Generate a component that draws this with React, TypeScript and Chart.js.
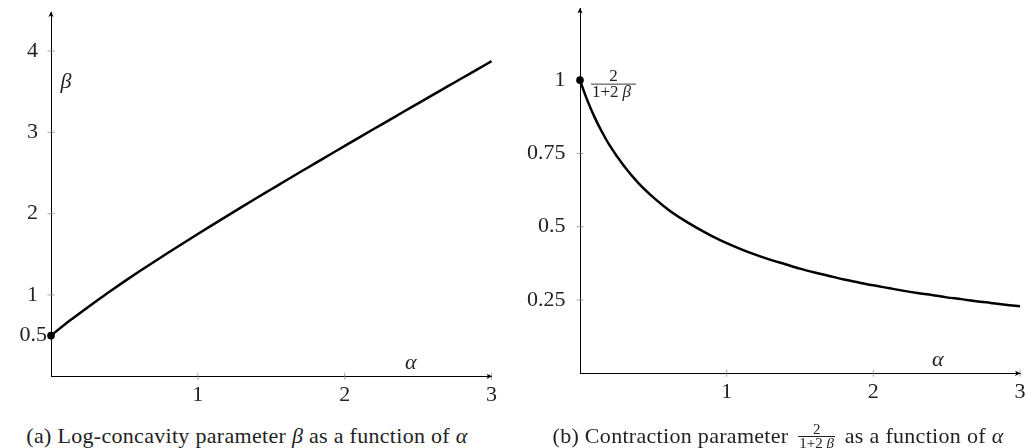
import React, { useEffect, useRef } from 'react';
import { Chart, registerables } from 'chart.js';

Chart.register(...registerables);

// ---- data ----
const alphaValues = [0, 0.025, 0.05, 0.1, 0.15, 0.2, 0.3, 0.4, 0.5, 0.6, 0.7, 0.8, 0.9, 1.0, 1.1, 1.2, 1.3, 1.4, 1.5, 1.6, 1.7, 1.8, 1.9, 2.0, 2.1, 2.2, 2.3, 2.4, 2.5, 2.6, 2.7, 2.8, 2.9, 3.0];
const betaValues = [0.5, 0.537, 0.574, 0.646, 0.715, 0.783, 0.915, 1.043, 1.167, 1.288, 1.406, 1.522, 1.637, 1.75, 1.862, 1.973, 2.083, 2.192, 2.3, 2.408, 2.515, 2.621, 2.728, 2.833, 2.939, 3.044, 3.148, 3.253, 3.357, 3.461, 3.565, 3.668, 3.772, 3.875];
const contractionValues = [1, 0.964, 0.931, 0.873, 0.823, 0.779, 0.707, 0.648, 0.6, 0.559, 0.525, 0.495, 0.468, 0.444, 0.423, 0.404, 0.387, 0.372, 0.357, 0.344, 0.332, 0.32, 0.31, 0.3, 0.291, 0.282, 0.274, 0.267, 0.259, 0.253, 0.246, 0.24, 0.234, 0.229];
const xTicks = [1, 2, 3];
const betaTicks = [0.5, 1, 2, 3, 4];
const contractionTicks = [0.25, 0.5, 0.75, 1];
const captionA = 'Log-concavity parameter';
const captionB = 'Contraction parameter';

const SERIF = '"Liberation Serif", "DejaVu Serif", serif';

const decorPlugin = {
  id: 'decor',
  beforeDatasetsDraw(chart: any, _args: any, opts: any) {
    const { ctx, chartArea: ca, scales } = chart;
    const xs = scales.x;
    const ys = scales.y;
    ctx.save();
    ctx.strokeStyle = '#8a8a8a';
    ctx.lineWidth = 0.8;
    ctx.beginPath();
    for (const v of opts.xTicks) {
      const px = xs.getPixelForValue(v);
      ctx.moveTo(px, ca.bottom - 3.5);
      ctx.lineTo(px, ca.bottom + 3.5);
    }
    for (const v of opts.yTicks) {
      const py = ys.getPixelForValue(v);
      ctx.moveTo(ca.left - 3.5, py);
      ctx.lineTo(ca.left + 3.5, py);
    }
    ctx.stroke();
    ctx.restore();
  },
  afterDraw(chart: any, _args: any, opts: any) {
    const { ctx, chartArea: ca, scales } = chart;
    const xs = scales.x;
    const ys = scales.y;
    ctx.save();
    ctx.fillStyle = '#000';
    // arrow on y axis (up)
    const ax = ca.left;
    const ay = ca.top;
    ctx.beginPath();
    ctx.moveTo(ax, ay - 0.5);
    ctx.lineTo(ax - 2.6, ay + 5);
    ctx.lineTo(ax, ay + 3.6);
    ctx.lineTo(ax + 2.6, ay + 5);
    ctx.closePath();
    ctx.fill();
    // arrow on x axis (right)
    const bx = ca.right;
    const by = ca.bottom;
    ctx.beginPath();
    ctx.moveTo(bx + 0.5, by);
    ctx.lineTo(bx - 5, by - 2.6);
    ctx.lineTo(bx - 3.6, by);
    ctx.lineTo(bx - 5, by + 2.6);
    ctx.closePath();
    ctx.fill();

    ctx.fillStyle = '#222';
    ctx.textBaseline = 'middle';
    // axis labels
    ctx.font = `italic 22px ${SERIF}`;
    ctx.textAlign = 'center';
    ctx.fillText('α', xs.getPixelForValue(opts.alphaAt), ca.bottom - opts.alphaUp);
    if (opts.kind === 'a') {
      ctx.fillText('β', ca.left + 15, ys.getPixelForValue(3.62));
      // extra tick label 0.5
      ctx.font = `22px ${SERIF}`;
      ctx.textAlign = 'right';
      ctx.fillText('0.5', ca.left - 4, ys.getPixelForValue(0.5));
    } else {
      const x0 = ca.left + 11;
      const x1 = ca.left + 56;
      const yb = ys.getPixelForValue(1) + 4;
      ctx.strokeStyle = '#222';
      ctx.lineWidth = 0.9;
      ctx.beginPath();
      ctx.moveTo(x0, yb);
      ctx.lineTo(x1, yb);
      ctx.stroke();
      ctx.font = `17px ${SERIF}`;
      ctx.textAlign = 'center';
      ctx.fillText('2', (x0 + x1) / 2, yb - 7.5);
      ctx.textAlign = 'left';
      ctx.fillText('1+2', x0 + 1, yb + 8.5);
      const w = ctx.measureText('1+2').width;
      ctx.font = `italic 17px ${SERIF}`;
      ctx.fillText('β', x0 + 1 + w + 4, yb + 8.5);
    }
    ctx.restore();
  },
};

function buildConfig(p: {
  values: number[];
  yTicks: number[];
  yMax: number;
  padTop: number;
  padRight: number;
  yWidth: number;
  xHeight: number;
  labelPad: number;
  hideLabel?: number;
  decor: any;
}) {
  return {
    type: 'line' as const,
    data: {
      datasets: [
        {
          data: alphaValues.map((a, i) => ({ x: a, y: p.values[i] })),
          borderColor: '#000',
          borderWidth: 2.5,
          backgroundColor: '#000',
          pointRadius: (c: any) => (c.dataIndex === 0 ? 3.8 : 0),
          pointBorderWidth: 0,
          pointHoverRadius: 0,
          cubicInterpolationMode: 'monotone' as const,
          fill: false,
          clip: false as any,
        },
      ],
    },
    options: {
      animation: false as const,
      responsive: false,
      maintainAspectRatio: false,
      events: [],
      layout: { padding: { left: 0, top: p.padTop, right: p.padRight, bottom: 0 } },
      plugins: {
        legend: { display: false },
        tooltip: { enabled: false },
        decor: p.decor,
      },
      scales: {
        x: {
          type: 'linear' as const,
          min: 0,
          max: 3,
          afterBuildTicks: (s: any) => {
            s.ticks = xTicks.map((v) => ({ value: v }));
          },
          afterFit: (s: any) => {
            s.height = p.xHeight;
            s.paddingLeft = 0;
            s.paddingRight = 0;
          },
          grid: { display: false, drawTicks: false },
          border: { display: true, color: '#000', width: 1 },
          ticks: {
            autoSkip: false,
            maxRotation: 0,
            padding: 6,
            color: '#222',
            font: { family: SERIF, size: 22, lineHeight: 1.2 },
            callback: (v: any) => String(v),
          },
        },
        y: {
          type: 'linear' as const,
          min: 0,
          max: p.yMax,
          afterBuildTicks: (s: any) => {
            s.ticks = p.yTicks.map((v) => ({ value: v }));
          },
          afterFit: (s: any) => {
            s.width = p.yWidth;
            s.paddingTop = 0;
            s.paddingBottom = 0;
          },
          grid: { display: false, drawTicks: false },
          border: { display: true, color: '#000', width: 1 },
          ticks: {
            autoSkip: false,
            padding: p.labelPad,
            color: '#222',
            font: { family: SERIF, size: 22, lineHeight: 1.2 },
            callback: (v: any) => (v === p.hideLabel ? '' : String(v)),
          },
        },
      },
    },
    plugins: [decorPlugin],
  };
}

function ChartCanvas(props: { config: any; left: number; width: number; height: number }) {
  const ref = useRef<HTMLCanvasElement | null>(null);
  useEffect(() => {
    if (!ref.current) return;
    const chart = new Chart(ref.current, props.config);
    return () => chart.destroy();
  }, []);
  return (
    <canvas
      ref={ref}
      width={props.width}
      height={props.height}
      style={{ position: 'absolute', left: props.left, top: 0, width: props.width, height: props.height, display: 'block' }}
    />
  );
}

const configA = buildConfig({
  values: betaValues,
  yTicks: betaTicks,
  yMax: 4.48,
  padTop: 12,
  padRight: 28.4,
  yWidth: 51,
  xHeight: 43.7,
  labelPad: 13,
  hideLabel: 0.5,
  decor: { kind: 'a', xTicks, yTicks: betaTicks, alphaAt: 2.45, alphaUp: 13 },
});

const configB = buildConfig({
  values: contractionValues,
  yTicks: contractionTicks,
  yMax: 1.245,
  padTop: 8.3,
  padRight: 20,
  yWidth: 70,
  xHeight: 46.7,
  labelPad: 14.5,
  decor: { kind: 'b', xTicks, yTicks: contractionTicks, alphaAt: 2.44, alphaUp: 13 },
});

const captionStyle: React.CSSProperties = {
  position: 'absolute',
  top: 423,
  fontFamily: SERIF,
  fontSize: 22,
  lineHeight: '26px',
  letterSpacing: '0.3px',
  color: '#222',
  textAlign: 'center',
  whiteSpace: 'nowrap',
};

export default function App() {
  useEffect(() => {
    document.body.style.margin = '0';
  }, []);
  return (
    <div style={{ position: 'absolute', left: 0, top: 0, width: 1027, height: 448, overflow: 'hidden', background: '#fff' }}>
      <ChartCanvas config={configA} left={0} width={520} height={420} />
      <ChartCanvas config={configB} left={510} width={530} height={420} />
      <div style={{ ...captionStyle, left: 0, width: 494 }}>
        (a) {captionA} <i>β</i> as a function of <i>α</i>
      </div>
      <div style={{ ...captionStyle, left: 551, width: 454 }}>
        (b) {captionB}{' '}
        <span style={{ display: 'inline-block', verticalAlign: 'middle', textAlign: 'center', fontSize: 15, lineHeight: '11px', margin: '0 4px', position: 'relative', top: -1, letterSpacing: 0 }}>
          <span style={{ display: 'block', borderBottom: '0.9px solid #222', padding: '0 1px 1px' }}>2</span>
          <span style={{ display: 'block', padding: '1px 1px 0' }}>
            1+2 <i>β</i>
          </span>
        </span>{' '}
        as a function of <i>α</i>
      </div>
    </div>
  );
}
